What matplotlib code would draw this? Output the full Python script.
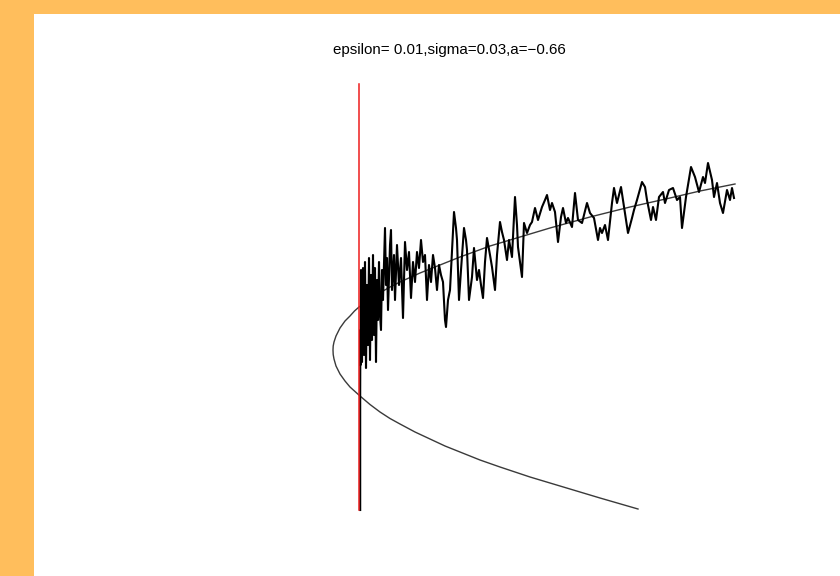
import matplotlib
matplotlib.use("Agg")
import matplotlib.pyplot as plt

plt.rcParams['font.family'] = ['Liberation Sans', 'DejaVu Sans']

title_text = "epsilon= 0.01,sigma=0.03,a=\u22120.66"

# critical manifold (fold), traced from the lower branch end through the turning point
manifold_mu = [2.79, 2.41, 2.01, 1.71, 1.41, 1.21, 1.01, 0.86, 0.71, 0.56, 0.41, 0.31, 0.21,
               0.11, 0.01, -0.09, -0.14, -0.19, -0.23, -0.25, -0.258, -0.26, -0.258, -0.25,
               -0.23, -0.19, -0.14, -0.09, -0.045, 0.00, 0.05, 0.11, 0.17, 0.24, 0.32, 0.41,
               0.51, 0.61, 0.71, 0.81, 1.01, 1.31, 1.61, 1.91, 2.31, 2.71, 3.11, 3.41, 3.76]
manifold_x = [-1.59, -1.48, -1.36, -1.27, -1.17, -1.10, -1.02, -0.96, -0.89, -0.82, -0.74,
              -0.685, -0.62, -0.545, -0.46, -0.37, -0.31, -0.24, -0.16, -0.09, -0.045, 0.00,
              0.04, 0.08, 0.14, 0.22, 0.29, 0.34, 0.39, 0.43, 0.465, 0.50, 0.545, 0.59,
              0.635, 0.68, 0.725, 0.77, 0.81, 0.85, 0.93, 1.04, 1.13, 1.22, 1.33, 1.43,
              1.52, 1.59, 1.66]

# noisy sample path
path_mu = [0.012, 0.012, 0.012, 0.012, 0.014, 0.015, 0.02, 0.03, 0.04, 0.05, 0.06, 0.07,
           0.08, 0.09, 0.10, 0.11, 0.12, 0.13, 0.14, 0.15, 0.16, 0.17, 0.18, 0.19,
           0.20, 0.21, 0.22, 0.23, 0.24, 0.26, 0.27, 0.28, 0.29, 0.31, 0.32, 0.33,
           0.35, 0.36, 0.38, 0.40, 0.42, 0.44, 0.46, 0.48, 0.50, 0.52, 0.54, 0.56,
           0.58, 0.60, 0.62, 0.64, 0.66, 0.68, 0.70, 0.72, 0.74, 0.76, 0.78, 0.80,
           0.82, 0.84, 0.86, 0.87, 0.89, 0.91, 0.93, 0.95, 0.97, 0.98, 1.00, 1.02,
           1.05, 1.07, 1.08, 1.10, 1.13, 1.15, 1.18, 1.20, 1.22, 1.24, 1.26, 1.28,
           1.31, 1.33, 1.36, 1.38, 1.41, 1.43, 1.45, 1.48, 1.50, 1.53, 1.56, 1.58,
           1.59, 1.61, 1.63, 1.65, 1.68, 1.71, 1.73, 1.76, 1.79, 1.83, 1.86, 1.88,
           1.91, 1.93, 1.96, 1.99, 2.02, 2.04, 2.07, 2.09, 2.13, 2.16, 2.19, 2.23,
           2.28, 2.31, 2.35, 2.39, 2.41, 2.43, 2.46, 2.49, 2.53, 2.55, 2.58, 2.62,
           2.65, 2.69, 2.73, 2.75, 2.78, 2.83, 2.86, 2.88, 2.92, 2.94, 2.97, 3.00,
           3.04, 3.06, 3.10, 3.14, 3.18, 3.21, 3.23, 3.27, 3.32, 3.36, 3.40, 3.44,
           3.46, 3.49, 3.53, 3.55, 3.58, 3.61, 3.64, 3.68, 3.71, 3.73, 3.75]
path_x = [-1.60, -1.20, -0.80, -0.40, 0.20, -0.15, 0.80, -0.12, 0.82, -0.05, 0.88, -0.18,
          0.65, 0.05, 0.92, -0.10, 0.75, 0.10, 0.95, 0.15, 0.82, -0.12, 0.70, 0.30,
          0.88, 0.35, 0.20, 0.80, 0.50, 1.22, 0.65, 0.92, 0.40, 1.05, 1.20, 0.60,
          0.95, 0.50, 1.05, 0.65, 0.92, 0.32, 1.08, 0.80, 0.98, 0.52, 0.88, 0.68,
          0.98, 0.82, 1.10, 0.88, 0.95, 0.50, 0.85, 0.68, 0.95, 0.82, 0.60, 0.85,
          0.75, 0.68, 0.30, 0.23, 0.50, 0.60, 1.00, 1.38, 1.22, 1.10, 0.50, 0.80,
          1.22, 1.10, 1.00, 0.50, 0.73, 1.02, 0.70, 0.80, 0.65, 0.52, 0.88, 1.12,
          0.95, 0.83, 0.60, 0.95, 1.28, 1.18, 1.10, 0.90, 1.10, 0.93, 1.53, 1.25,
          1.03, 0.88, 0.73, 1.27, 1.17, 1.25, 1.28, 1.42, 1.30, 1.43, 1.50, 1.55,
          1.40, 1.47, 1.38, 1.08, 1.33, 1.42, 1.27, 1.32, 1.23, 1.57, 1.30, 1.27,
          1.47, 1.37, 1.32, 1.10, 1.22, 1.17, 1.25, 1.10, 1.47, 1.62, 1.47, 1.63,
          1.43, 1.17, 1.32, 1.40, 1.50, 1.68, 1.63, 1.50, 1.30, 1.43, 1.30, 1.53,
          1.58, 1.47, 1.60, 1.62, 1.50, 1.53, 1.22, 1.53, 1.83, 1.73, 1.58, 1.73,
          1.67, 1.87, 1.70, 1.53, 1.67, 1.47, 1.37, 1.60, 1.50, 1.62, 1.52]

# starting value of the parameter, marked by a vertical line
mu_start = 0.0
marker_x_range = [-1.60, 2.66]

fig = plt.figure(figsize=(8.4, 5.76), dpi=100)
fig.patch.set_facecolor('#FFBE5C')

ax = fig.add_axes([34 / 840, 0.0, 806 / 840, 562 / 576])
ax.set_xlim(-3.25, 4.81)
ax.set_ylim(-2.26, 3.36)
ax.set_axis_off()
bg = plt.Rectangle((0, 0), 1, 1, transform=ax.transAxes, facecolor='white',
                   edgecolor='none', zorder=0)
ax.add_patch(bg)

ax.plot(manifold_mu, manifold_x, color='#3a3a3a', lw=1.0, zorder=2)
ax.plot(path_mu, path_x, color='black', lw=1.5, zorder=3, solid_joinstyle='round')
ax.plot([mu_start, mu_start], marker_x_range, color='#EE1C1C', lw=1.1, zorder=4)

fig.text(449.5 / 840, 1 - 50 / 576, title_text, ha='center', va='center',
         fontsize=10.9, color='black')

fig.savefig('out.png', dpi=100, facecolor=fig.get_facecolor())
